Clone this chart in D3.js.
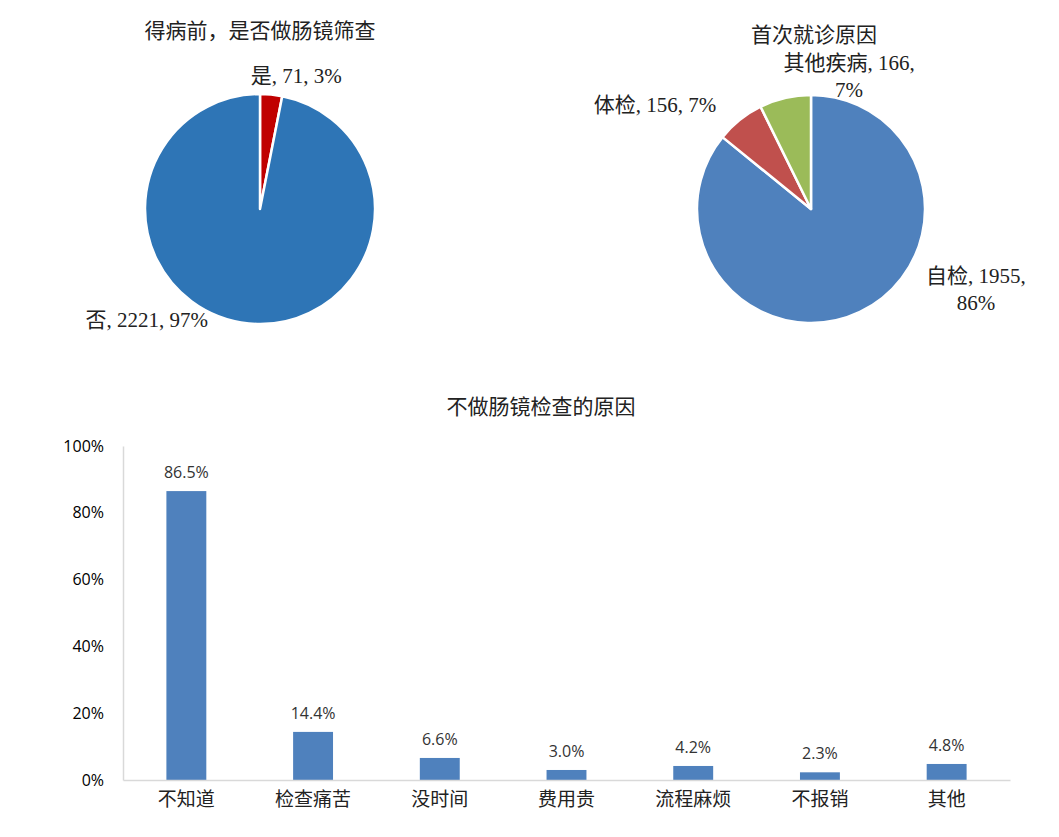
<!DOCTYPE html>
<html>
<head>
<meta charset="utf-8">
<script src="https://cdn.jsdelivr.net/npm/d3@7"></script>
<style>
  body { margin: 0; background: #fff; }
  svg { display: block; }
  .serif { font-family: "Liberation Serif", "Noto Sans CJK SC", serif; fill: #222; }
  .sans { font-family: "Open Sans", "Noto Sans CJK SC", sans-serif; }
</style>
</head>
<body>
<div id="chart"></div>
<script>
// pie 1: 得病前，是否做肠镜筛查
const screenNames = ['是', '否'];
const screenCounts = [71, 2221];
const screenPct = ['3%', '97%'];
const screenColors = ['#C00000', '#2E75B6'];

// pie 2: 首次就诊原因
const visitNames = ['自检', '体检', '其他疾病'];
const visitCounts = [1955, 156, 166];
const visitPct = ['86%', '7%', '7%'];
const visitColors = ['#4F81BD', '#C0504D', '#9BBB59'];

// bars: 不做肠镜检查的原因
const reasonNames = ['不知道', '检查痛苦', '没时间', '费用贵', '流程麻烦', '不报销', '其他'];
const reasonValues = [86.5, 14.4, 6.6, 3.0, 4.2, 2.3, 4.8];
const yTicks = [0, 20, 40, 60, 80, 100];

const width = 1059, height = 837;
const svg = d3.select('#chart').append('svg')
	.attr('width', width)
	.attr('height', height);

function drawPie(cfg) {
	const g = svg.append('g').attr('transform', `translate(${cfg.cx},${cfg.cy})`);
	const pie = d3.pie().sort(null).value(d => d.count);
	const arc = d3.arc().innerRadius(0).outerRadius(cfg.r);
	const data = cfg.names.map((n, i) => ({ name: n, count: cfg.counts[i], pct: cfg.pct[i], color: cfg.colors[i] }));
	const arcs = pie(data);

	g.selectAll('path.slice')
		.data(arcs)
		.enter().append('path')
		.attr('class', 'slice')
		.attr('d', arc)
		.attr('fill', d => d.data.color)
		.attr('stroke', '#fff')
		.attr('stroke-width', 2.5)
		.attr('stroke-linejoin', 'round');

	svg.append('text')
		.attr('class', 'serif')
		.attr('x', cfg.cx + cfg.titleDx)
		.attr('y', cfg.titleY)
		.attr('text-anchor', 'middle')
		.attr('font-size', 21)
		.text(cfg.title);

	// labels sit just outside the rim, nudged the way excel placed them
	const labelArc = d3.arc().innerRadius(cfg.r).outerRadius(cfg.r);
	arcs.forEach(function (d, i) {
		const c = labelArc.centroid(d);
		const nudge = cfg.nudge[i];
		const lines = cfg.wrap[i]
			? [`${d.data.name}, ${d.data.count},`, d.data.pct]
			: [`${d.data.name}, ${d.data.count}, ${d.data.pct}`];
		const t = g.append('text')
			.attr('class', 'serif')
			.attr('text-anchor', 'middle')
			.attr('font-size', 21);
		lines.forEach(function (line, k) {
			t.append('tspan')
				.attr('x', c[0] + nudge[0])
				.attr('y', c[1] + nudge[1] + k * 27)
				.text(line);
		});
	});
}

drawPie({
	cx: 260, cy: 209, r: 115,
	names: screenNames, counts: screenCounts, pct: screenPct, colors: screenColors,
	title: '得病前，是否做肠镜筛查', titleDx: 0, titleY: 38,
	nudge: [[25, -12], [-102, 4]],
	wrap: [false, false]
});

drawPie({
	cx: 811, cy: 209, r: 114,
	names: visitNames, counts: visitCounts, pct: visitPct, colors: visitColors,
	title: '首次就诊原因', titleDx: 3, titleY: 42,
	nudge: [[116, -29], [-85, -8], [64, -28]],
	wrap: [true, false, true]
});

// bar chart
const margin = { left: 123, right: 1010, top: 446, bottom: 780 };

svg.append('text')
	.attr('class', 'serif')
	.attr('x', 541)
	.attr('y', 414)
	.attr('text-anchor', 'middle')
	.attr('font-size', 21)
	.text('不做肠镜检查的原因');

const x = d3.scaleBand()
	.domain(reasonNames)
	.range([margin.left, margin.right])
	.paddingInner(0.685)
	.paddingOuter(0.3425);

const y = d3.scaleLinear()
	.domain([0, 100])
	.range([margin.bottom, margin.top]);

const yAxis = svg.append('g')
	.attr('transform', `translate(${margin.left},0)`)
	.call(d3.axisLeft(y).tickValues(yTicks).tickSize(0).tickPadding(19).tickFormat(d => d + '%'));
yAxis.select('.domain').attr('stroke', '#D9D9D9').attr('stroke-width', 1.5);
yAxis.selectAll('text')
	.attr('class', 'sans')
	.attr('font-size', 16)
	.attr('fill', '#000');

svg.selectAll('rect.bar')
	.data(reasonNames)
	.enter().append('rect')
	.attr('class', 'bar')
	.attr('x', d => x(d))
	.attr('width', x.bandwidth())
	.attr('y', (d, i) => y(reasonValues[i]))
	.attr('height', (d, i) => y(0) - y(reasonValues[i]))
	.attr('fill', '#4F81BD');

const xAxis = svg.append('g')
	.attr('transform', `translate(0,${margin.bottom})`)
	.call(d3.axisBottom(x).tickSize(0).tickPadding(13));
xAxis.select('.domain').attr('stroke', '#D9D9D9').attr('stroke-width', 1.5);
xAxis.selectAll('text')
	.attr('class', 'sans')
	.attr('font-size', 19)
	.attr('fill', '#222');

svg.selectAll('text.val')
	.data(reasonNames)
	.enter().append('text')
	.attr('class', 'val sans')
	.attr('x', d => x(d) + x.bandwidth() / 2)
	.attr('y', (d, i) => y(reasonValues[i]) - 13)
	.attr('text-anchor', 'middle')
	.attr('font-size', 16)
	.attr('fill', '#333')
	.text((d, i) => reasonValues[i].toFixed(1) + '%');
</script>
</body>
</html>
